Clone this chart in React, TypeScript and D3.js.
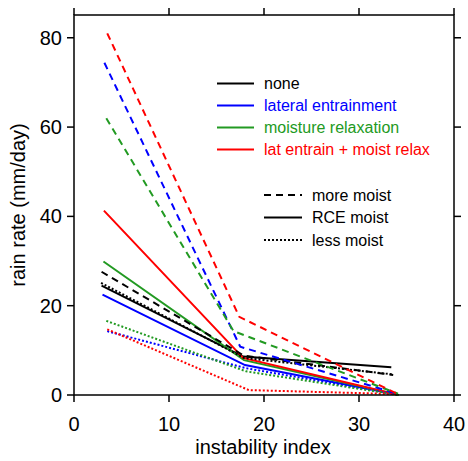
import React from "react";
import * as d3 from "d3";

// Scheme names and colours
const schemes = ["none", "lateral entrainment", "moisture relaxation", "lat entrain + moist relax"];
const schemeColors = ["#000000", "#0000ff", "#229a22", "#ff0000"];

// Moisture cases and their line styles
const moistCases = ["more moist", "RCE moist", "less moist"];
const moistDash = ["7,5", "", "2,2"];

// Instability index (x) per scheme per moisture case
const xNone = [[2.9, 17.9, 33.6], [2.9, 17.8, 33.4], [2.85, 17.9, 33.6]];
const xLat = [[3.2, 17.5, 34.0], [3.0, 18.0, 34.0], [3.5, 18.1, 34.0]];
const xMoist = [[3.4, 16.8, 34.1], [3.1, 17.9, 34.2], [3.4, 18.1, 34.2]];
const xBoth = [[3.5, 17.4, 34.0], [3.15, 17.8, 34.0], [3.5, 18.4, 34.0]];

// Rain rate (mm/day) per scheme per moisture case
const rainNone = [[27.6, 8.8, 4.5], [24.5, 8.6, 6.2], [25.1, 8.3, 4.6]];
const rainLat = [[74.4, 10.8, 0.3], [22.5, 6.7, 0.1], [14.3, 6.0, 0.1]];
const rainMoist = [[62.0, 14.3, 0.3], [29.9, 7.8, 0.0], [16.6, 5.3, 0.0]];
const rainBoth = [[81.0, 17.5, 0.3], [41.3, 8.3, 0.1], [14.7, 1.1, 0.2]];

const xTicks = [0, 10, 20, 30, 40];
const yTicks = [0, 20, 40, 60, 80];

const xs = [xNone, xLat, xMoist, xBoth];
const ys = [rainNone, rainLat, rainMoist, rainBoth];

export default function App() {
  const W = 468;
  const H = 461;
  const left = 74, right = 454, top = 15, bottom = 395;
  const x = d3.scaleLinear().domain([0, 40]).range([left, right]);
  const y = d3.scaleLinear().domain([0, 85.1]).range([bottom, top]);
  const line = d3
    .line<[number, number]>()
    .x((d) => x(d[0]))
    .y((d) => y(d[1]));

  const font = "Liberation Sans, Arial, sans-serif";
  const tickLen = 7;
  const axisFont = 20;
  const legendFont = 16;

  const series: { d: string; color: string; dash: string }[] = [];
  schemes.forEach((_, si) => {
    moistCases.forEach((_, mi) => {
      const pts = xs[si][mi].map((xv, k) => [xv, ys[si][mi][k]] as [number, number]);
      series.push({ d: line(pts) || "", color: schemeColors[si], dash: moistDash[mi] });
    });
  });
  // draw order: solid first, dotted, then dashed on top
  const order = [1, 2, 0];
  const drawn = order.flatMap((mi) => schemes.map((_, si) => series[si * 3 + mi]));

  return (
    <svg width={W} height={H} style={{ position: "absolute", left: 0, top: 0 }}>
      <rect width={W} height={H} fill="#fff" />
      {drawn.map((s, i) => (
        <path
          key={i}
          d={s.d}
          fill="none"
          stroke={s.color}
          strokeWidth={2}
          strokeDasharray={s.dash || undefined}
        />
      ))}
      {/* frame */}
      <rect x={left} y={top} width={right - left} height={bottom - top} fill="none" stroke="#000" strokeWidth={1.5} />
      {xTicks.map((t) => (
        <g key={"x" + t}>
          <line x1={x(t)} x2={x(t)} y1={bottom} y2={bottom + tickLen} stroke="#000" strokeWidth={1.5} />
          <line x1={x(t)} x2={x(t)} y1={top} y2={top - tickLen} stroke="#000" strokeWidth={1.5} />
          <text x={x(t)} y={431} textAnchor="middle" fontFamily={font} fontSize={axisFont}>
            {t}
          </text>
        </g>
      ))}
      {yTicks.map((t) => (
        <g key={"y" + t}>
          <line x1={left} x2={left - tickLen} y1={y(t)} y2={y(t)} stroke="#000" strokeWidth={1.5} />
          <line x1={right} x2={right + tickLen} y1={y(t)} y2={y(t)} stroke="#000" strokeWidth={1.5} />
          <text x={62} y={y(t) + 7} textAnchor="end" fontFamily={font} fontSize={axisFont}>
            {t}
          </text>
        </g>
      ))}
      <text x={(left + right) / 2 - 1} y={454} textAnchor="middle" fontFamily={font} fontSize={axisFont}>
        instability index
      </text>
      <text
        transform={`translate(25,${(top + bottom) / 2}) rotate(-90)`}
        textAnchor="middle"
        fontFamily={font}
        fontSize={axisFont}
      >
        rain rate (mm/day)
      </text>
      {/* scheme legend */}
      {schemes.map((name, i) => (
        <g key={name} transform={`translate(0,${83.5 + i * 22})`}>
          <line x1={217} x2={254} y1={0} y2={0} stroke={schemeColors[i]} strokeWidth={2} />
          <text x={264} y={5.5} fontFamily={font} fontSize={legendFont} fill={schemeColors[i]}>
            {name}
          </text>
        </g>
      ))}
      {/* moisture legend */}
      {moistCases.map((name, i) => (
        <g key={name} transform={`translate(0,${195 + i * 22.5})`}>
          <line
            x1={264}
            x2={302}
            y1={0}
            y2={0}
            stroke="#000"
            strokeWidth={2}
            strokeDasharray={moistDash[i] || undefined}
          />
          <text x={312} y={5.5} fontFamily={font} fontSize={legendFont}>
            {name}
          </text>
        </g>
      ))}
    </svg>
  );
}
